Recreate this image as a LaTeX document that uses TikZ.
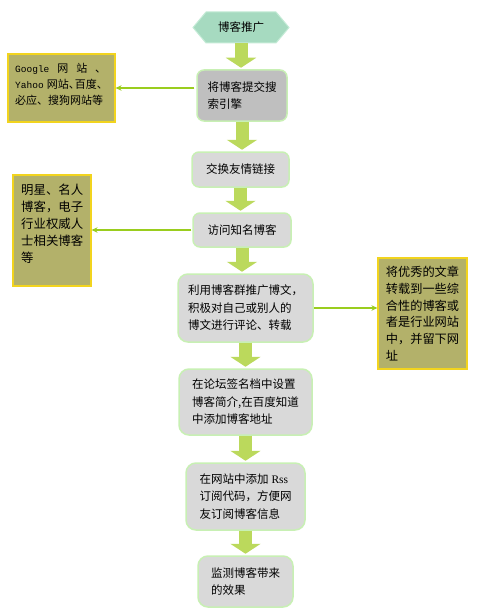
\documentclass[tikz,border=0pt]{standalone}
\usepackage{fontspec}
\setmainfont{Noto Sans CJK SC}
\newfontfamily\monofnt{Liberation Mono}
\newfontfamily\seriffnt{Liberation Serif}
\usetikzlibrary{shapes.symbols,arrows.meta}
\definecolor{hexfill}{HTML}{A6DAC0}
\definecolor{hexedge}{HTML}{C4EBD6}
\definecolor{boxgray}{HTML}{D9D9D9}
\definecolor{boxdark}{HTML}{BFBFBF}
\definecolor{boxedge}{HTML}{C8F0B4}
\definecolor{notefill}{HTML}{B3B16A}
\definecolor{noteedge}{HTML}{F2D41E}
\definecolor{flowgreen}{HTML}{BBD95C}
\definecolor{linkgreen}{HTML}{9ACD1E}
\begin{document}
\begin{tikzpicture}[x=1pt,y=-1pt,
  box/.style={rectangle, rounded corners=7pt, draw=boxedge, line width=1.5pt, fill=boxgray,
    align=left, inner sep=0pt, font=\fontsize{11.5}{17.5}\selectfont},
  note/.style={rectangle, draw=noteedge, line width=1.2pt, fill=notefill, inner sep=0pt, align=left},
  notetext/.style={inner sep=0pt, align=left},
  flow/.style={draw=flowgreen, line width=13pt, shorten >=1.5pt, -{Triangle[width=30pt,length=10pt]}},
  link/.style={draw=linkgreen, line width=1.3pt, -{Stealth[length=6pt,width=5.5pt]}}]
\useasboundingbox (0,0) rectangle (500,615);
\fill[white] (0,0) rectangle (500,615);

% main column
\node[signal, signal to=east and west, signal pointer angle=100, fill=hexfill, draw=hexedge,
  line width=1pt, minimum width=96pt, minimum height=31pt, inner sep=0pt,
  font=\fontsize{11.5}{14}\selectfont] (b1) at (241,27.5) {博客推广};
\node[box, fill=boxdark, minimum width=90pt, minimum height=51pt] (b2) at (242,95.5)
  {将博客提交搜\\索引擎};
\node[box, minimum width=97pt, minimum height=35pt] (b3) at (240.5,169.5) {交换友情链接};
\node[box, minimum width=98pt, minimum height=34pt] (b4) at (242,230) {访问知名博客};
\node[box, rounded corners=10pt, minimum width=135pt, minimum height=68pt] (b5) at (245.5,308)
  {利用博客群推广博文，\\积极对自己或别人的\\博文进行评论、转载};
\node[box, rounded corners=10pt, minimum width=133pt, minimum height=66pt] (b6) at (245.5,402)
  {在论坛签名档中设置\\博客简介,在百度知道\\中添加博客地址};
\node[box, rounded corners=10pt, minimum width=119pt, minimum height=67pt] (b7) at (245.5,496.5)
  {在网站中添加\hspace{3pt}{\seriffnt Rss}\\订阅代码，方便网\\友订阅博客信息};
\node[box, rounded corners=10pt, minimum width=95pt, minimum height=51pt] (b8) at (245.5,581.5)
  {监测博客带来\\的效果};

% side notes
\node[note, minimum width=107pt, minimum height=68pt] (lb1) at (61.5,88) {};
\node[notetext, font=\fontsize{11}{16}\selectfont] (lb1t) at (61.5,84.5)
  {\hbox to 91pt{{\monofnt\fontsize{9.5}{16}\selectfont Google}\hfill 网\hfill 站\hfill 、}\\
   {\monofnt\fontsize{9.5}{16}\selectfont Yahoo}\hspace{3pt}网站\makebox[6pt][l]{、}百度、\\
   必应、搜狗网站等};
\node[note, minimum width=78pt, minimum height=111pt] (lb2) at (52,230.5) {};
\node[notetext, anchor=north west, font=\fontsize{12.4}{17}\selectfont] (lb2t) at (21,183.5)
  {明星、名人\\博客，电子\\行业权威人\\士相关博客\\等};
\node[note, minimum width=89pt, minimum height=111pt, font=\fontsize{12.2}{16.8}\selectfont] (rb) at (422.5,313.5)
  {将优秀的文章\\转载到一些综\\合性的博客或\\者是行业网站\\中，并留下网\\址};

% flow arrows
\draw[flow] (b1.south) -- (b1.south |- b2.north);
\draw[flow] (b2.south) -- (b2.south |- b3.north);
\draw[flow] (b3.south) -- (b3.south |- b4.north);
\draw[flow] (b4.south) -- (b4.south |- b5.north);
\draw[flow] (b5.south) -- (b5.south |- b6.north);
\draw[flow] (b6.south) -- (b6.south |- b7.north);
\draw[flow] (b7.south) -- (b7.south |- b8.north);

% links to notes
\draw[link] (lb1.east -| b2.west) ++(-2,0) -- (lb1.east);
\draw[link] (b4.west) ++(-1,0) -- (b4.west -| lb2.east);
\draw[link] (b5.east) -- (b5.east -| rb.west);
\end{tikzpicture}
\end{document}
